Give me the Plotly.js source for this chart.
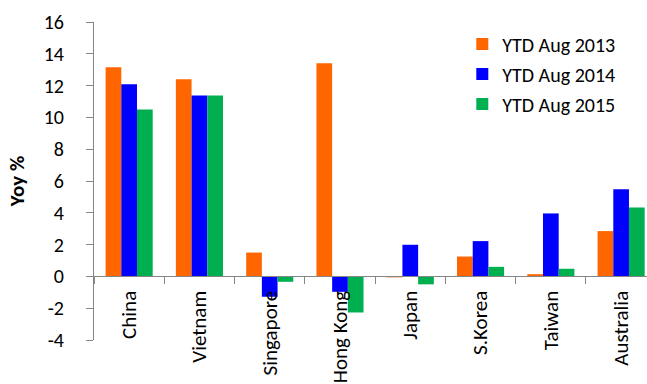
<!DOCTYPE html>
<html>
<head>
<meta charset="utf-8">
<script src="https://cdn.plot.ly/plotly-3.0.1.min.js"></script>
<style>
  html, body { margin: 0; padding: 0; background: #ffffff; }
  #chart { width: 647px; height: 384px; }
</style>
</head>
<body>
<div id="chart"></div>
<script>
// Year-on-year growth by market, year to date August
const markets = ["China", "Vietnam", "Singapore", "Hong Kong", "Japan", "S.Korea", "Taiwan", "Australia"];
const seriesNames = ["YTD Aug 2013", "YTD Aug 2014", "YTD Aug 2015"];
const ytd2013 = [13.15, 12.4, 1.5, 13.4, -0.06, 1.25, 0.14, 2.85];
const ytd2014 = [12.08, 11.38, -1.28, -0.97, 1.99, 2.22, 3.96, 5.48];
const ytd2015 = [10.5, 11.38, -0.34, -2.27, -0.5, 0.6, 0.48, 4.34];
const seriesColors = ["#FF6600", "#0000FF", "#00B050"];
const yTicks = [-4, -2, 0, 2, 4, 6, 8, 10, 12, 14, 16];

const FONT = "Carlito, Lato, 'Liberation Sans', sans-serif";
const AXIS_GREY = "#868686";

const values = [ytd2013, ytd2014, ytd2015];
const traces = values.map((v, i) => ({
  type: "bar",
  name: seriesNames[i],
  x: markets,
  y: v,
  legendgroup: "g" + i,
  marker: { color: seriesColors[i], line: { width: 0 } },
  hoverinfo: "x+y+name"
}));

const layout = {
  width: 647,
  height: 384,
  margin: { l: 94, r: 0, t: 22, b: 44, pad: 0 },
  paper_bgcolor: "#ffffff",
  plot_bgcolor: "#ffffff",
  font: { family: FONT, size: 20, color: "#000000" },
  barmode: "group",
  bargap: 0.33,
  bargroupgap: 0,
  showlegend: true,
  legend: {
    x: 0.666, y: 0.992, xanchor: "left", yanchor: "top",
    traceorder: "grouped",
    tracegroupgap: 1,
    bgcolor: "rgba(0,0,0,0)",
    font: { family: FONT, size: 20, color: "#000000" }
  },
  xaxis: {
    type: "category",
    range: [-0.5, 7.368],
    anchor: "free",
    position: 0.2,
    showline: true,
    linecolor: AXIS_GREY,
    linewidth: 1,
    ticks: "outside",
    tickson: "boundaries",
    ticklen: 7,
    tickcolor: AXIS_GREY,
    tickwidth: 1,
    tickangle: -90,
    ticklabelstandoff: 5,
    showgrid: false,
    zeroline: false,
    automargin: false,
    tickfont: { family: FONT, size: 21, color: "#000000" }
  },
  yaxis: {
    range: [-4, 16],
    tickvals: yTicks,
    ticktext: yTicks.map(String),
    showline: true,
    linecolor: AXIS_GREY,
    linewidth: 1,
    ticks: "outside",
    ticklen: 7,
    tickcolor: AXIS_GREY,
    tickwidth: 1,
    ticklabelposition: "outside",
    ticklabelstandoff: 18,
    showgrid: false,
    zeroline: false,
    automargin: false,
    tickfont: { family: FONT, size: 20, color: "#000000" },
    title: {
      text: "<b>Yoy %</b>",
      standoff: 13,
      font: { family: FONT, size: 21, color: "#000000" }
    }
  }
};

Plotly.newPlot("chart", traces, layout, { displayModeBar: false, staticPlot: true });
</script>
</body>
</html>
